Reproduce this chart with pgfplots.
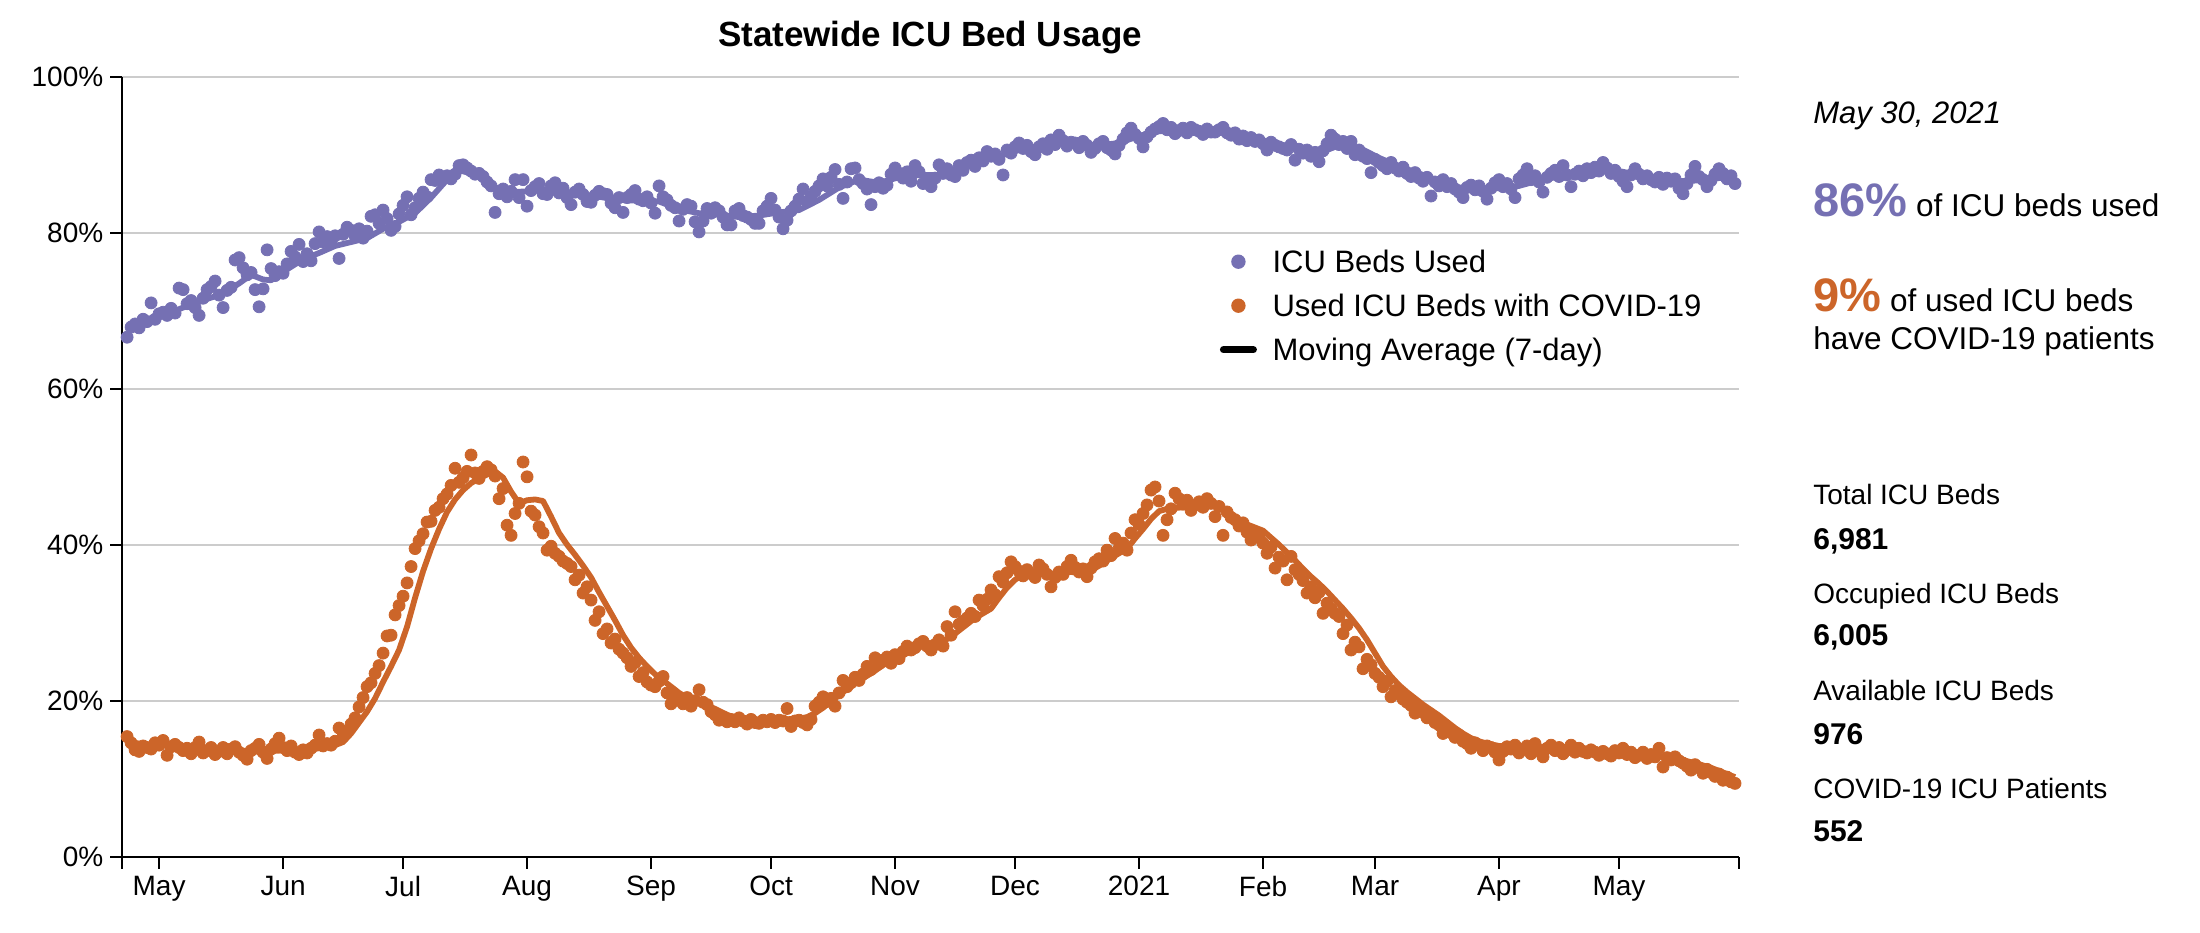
\documentclass[border=0pt]{standalone}
\usepackage{pgfplots}
\pgfplotsset{compat=1.18}
\usepackage{pgfplotstable}
\usepackage{fontspec}
\setmainfont{Liberation Sans}

\definecolor{pur}{RGB}{117,112,179}
\definecolor{orn}{RGB}{204,101,41}
\definecolor{gridc}{RGB}{204,204,204}

% daily values, day 0 = 1 May 2020; u = ICU beds used (%), c = used beds with COVID-19 (%)
\pgfplotstableread{
d u c
-8 66.6 15.4
-7 67.9 14.6
-6 68.3 13.7
-5 67.8 13.5
-4 68.9 14.2
-3 68.6 14.0
-2 71.0 13.8
-1 68.9 14.6
0 69.6 14.3
1 69.8 14.9
2 69.4 13.0
3 70.3 14.1
4 69.7 14.4
5 72.9 14.0
6 72.7 13.6
7 70.9 13.9
8 71.3 13.2
9 70.4 14.0
10 69.4 14.7
11 71.6 13.3
12 72.7 13.6
13 73.1 14.0
14 73.8 13.1
15 72.0 13.5
16 70.4 14.0
17 72.6 13.2
18 73.0 13.8
19 76.5 14.1
20 76.8 13.4
21 75.5 13.0
22 74.6 12.5
23 74.9 13.6
24 72.7 13.9
25 70.5 14.4
26 72.8 13.4
27 77.8 12.6
28 75.4 13.8
29 74.5 14.5
30 75.0 15.2
31 74.8 14.0
32 76.0 13.6
33 77.6 14.2
34 76.9 13.4
35 78.5 13.1
36 76.3 13.7
37 77.3 13.3
38 76.4 13.9
39 78.6 14.3
40 80.1 15.6
41 78.8 14.2
42 79.5 14.5
43 78.7 14.3
44 79.6 14.8
45 76.7 16.5
46 79.8 15.4
47 80.7 16.0
48 80.3 17.0
49 79.6 17.8
50 80.5 19.2
51 79.3 20.4
52 80.2 21.8
53 82.1 22.3
54 82.3 23.5
55 81.2 24.5
56 82.9 26.1
57 81.8 28.3
58 80.3 28.4
59 80.8 31.0
60 82.4 32.2
61 83.5 33.4
62 84.6 35.1
63 82.3 37.2
64 83.2 39.5
65 84.4 40.5
66 85.2 41.4
67 84.6 42.9
68 86.8 43.0
69 86.7 44.4
70 87.4 44.8
71 87.0 45.9
72 87.3 46.5
73 86.9 47.6
74 87.5 49.8
75 88.6 48.0
76 88.7 48.6
77 88.3 49.4
78 87.9 51.5
79 87.5 49.2
80 87.6 48.5
81 87.2 49.4
82 86.5 50.0
83 86.0 49.6
84 82.6 48.8
85 85.0 45.9
86 85.6 47.2
87 84.6 42.5
88 85.3 41.2
89 86.8 44.0
90 84.5 45.3
91 86.8 50.6
92 83.4 48.7
93 85.4 44.3
94 85.9 43.8
95 86.3 42.3
96 85.0 41.5
97 84.9 39.3
98 86.0 39.8
99 86.4 38.9
100 85.1 38.5
101 85.7 37.9
102 84.5 37.6
103 83.6 37.2
104 85.2 35.5
105 85.6 36.1
106 84.9 33.8
107 84.0 34.6
108 83.9 32.9
109 84.8 30.3
110 85.3 31.4
111 85.0 28.6
112 84.9 29.2
113 83.8 27.4
114 83.2 27.9
115 84.5 26.6
116 82.6 26.1
117 84.5 25.5
118 84.9 24.4
119 85.4 24.9
120 84.3 23.1
121 84.1 23.6
122 84.6 22.4
123 83.8 22.0
124 82.5 21.8
125 86.0 22.5
126 84.6 23.1
127 84.2 21.0
128 83.5 19.6
129 83.2 20.6
130 81.5 20.1
131 83.0 19.6
132 83.6 20.4
133 83.4 19.3
134 81.4 20.0
135 80.1 21.4
136 81.5 19.8
137 83.1 19.5
138 82.5 18.6
139 83.2 18.2
140 82.8 17.5
141 82.0 17.9
142 81.0 17.3
143 81.0 17.6
144 82.8 17.3
145 83.1 17.8
146 82.2 17.4
147 82.0 17.0
148 81.7 17.6
149 81.2 17.2
150 81.2 17.1
151 82.8 17.5
152 83.4 17.3
153 84.4 17.6
154 82.9 17.2
155 82.0 17.5
156 80.5 17.4
157 81.6 19.0
158 82.8 16.7
159 83.4 17.4
160 84.3 17.5
161 85.6 17.2
162 84.0 16.9
163 84.6 17.6
164 85.3 19.3
165 86.0 19.8
166 86.9 20.5
167 86.0 19.9
168 87.1 20.3
169 88.1 19.3
170 86.2 21.0
171 84.4 22.6
172 86.5 21.8
173 88.2 22.3
174 88.3 23.0
175 86.8 22.6
176 86.3 23.4
177 85.6 24.4
178 83.6 24.0
179 85.9 25.5
180 86.4 24.8
181 85.7 25.2
182 86.1 25.6
183 87.5 24.8
184 88.3 25.9
185 87.6 25.4
186 87.0 26.3
187 87.8 27.0
188 86.6 26.5
189 88.6 26.8
190 87.8 27.3
191 86.3 27.6
192 86.5 27.0
193 85.9 26.5
194 87.0 27.2
195 88.7 27.8
196 87.6 27.0
197 88.2 29.5
198 87.4 28.4
199 87.2 31.4
200 88.6 29.8
201 88.0 30.2
202 89.0 30.6
203 89.3 31.2
204 88.5 30.8
205 89.6 32.9
206 89.2 32.2
207 90.4 33.0
208 89.8 34.2
209 90.1 33.6
210 89.4 35.9
211 87.4 35.2
212 90.6 36.4
213 90.2 37.8
214 91.0 37.2
215 91.5 36.6
216 90.8 36.0
217 91.2 36.8
218 90.4 36.3
219 90.0 35.8
220 91.0 37.4
221 91.4 36.9
222 90.7 36.2
223 91.9 34.6
224 91.3 35.8
225 92.5 36.5
226 91.8 36.2
227 91.1 37.2
228 91.6 38.0
229 91.5 37.1
230 90.9 36.5
231 91.7 36.9
232 91.2 35.9
233 90.3 37.0
234 90.8 37.8
235 91.4 38.2
236 91.7 37.9
237 90.9 39.3
238 90.6 38.6
239 90.1 40.8
240 91.2 39.5
241 92.0 40.2
242 92.8 39.3
243 93.4 41.5
244 92.6 43.2
245 92.1 42.6
246 91.0 44.0
247 92.3 45.1
248 92.9 47.0
249 93.3 47.4
250 93.6 45.6
251 94.0 41.2
252 93.2 43.2
253 93.5 44.6
254 92.7 46.6
255 93.1 45.9
256 93.4 45.2
257 92.8 45.7
258 93.5 44.4
259 93.2 45.1
260 93.0 45.5
261 92.6 44.8
262 93.3 45.9
263 92.9 45.3
264 92.9 43.6
265 93.2 44.9
266 93.5 41.2
267 92.8 44.2
268 92.5 43.5
269 92.8 43.2
270 92.0 42.4
271 92.4 42.8
272 91.8 41.6
273 92.2 40.6
274 91.7 41.4
275 91.9 40.9
276 91.4 40.2
277 90.6 38.9
278 91.6 39.7
279 91.2 37.0
280 91.0 38.4
281 90.8 37.9
282 90.6 35.5
283 91.3 38.5
284 89.3 36.8
285 90.7 36.2
286 90.2 35.4
287 90.6 33.8
288 89.8 34.6
289 90.3 33.2
290 89.1 33.9
291 90.5 31.2
292 91.4 32.5
293 92.5 31.8
294 92.0 31.2
295 91.3 30.8
296 91.7 28.6
297 90.8 29.7
298 91.7 26.5
299 90.0 27.5
300 90.6 26.9
301 89.8 24.1
302 89.5 25.3
303 87.7 24.6
304 89.4 23.5
305 89.0 23.0
306 88.6 21.8
307 88.2 22.5
308 89.0 20.5
309 88.3 21.3
310 87.9 20.9
311 88.4 20.2
312 87.6 19.8
313 87.2 19.4
314 87.7 18.4
315 87.0 19.0
316 86.6 18.5
317 87.1 17.8
318 84.7 18.0
319 86.5 17.2
320 86.0 16.9
321 86.8 15.8
322 85.9 16.4
323 86.3 15.9
324 85.6 15.3
325 85.2 15.6
326 84.5 14.8
327 85.8 14.5
328 86.1 13.9
329 85.5 14.6
330 86.0 14.3
331 85.3 13.6
332 84.3 14.2
333 85.7 14.0
334 86.4 13.4
335 86.8 12.4
336 85.9 13.5
337 86.3 14.1
338 85.6 13.8
339 84.5 14.3
340 86.9 13.3
341 87.4 13.8
342 88.2 14.2
343 86.8 13.2
344 87.3 14.5
345 86.5 13.7
346 85.2 12.8
347 87.1 13.9
348 87.6 14.3
349 88.0 13.6
350 87.2 14.0
351 88.6 13.2
352 87.4 13.7
353 85.9 14.3
354 87.5 13.4
355 87.9 13.9
356 87.3 13.5
357 88.2 13.3
358 87.7 13.7
359 88.4 13.4
360 87.9 13.0
361 89.0 13.5
362 88.3 13.2
363 87.6 12.9
364 88.0 13.6
365 87.2 13.3
366 86.6 13.9
367 85.9 13.1
368 87.4 13.4
369 88.2 12.7
370 87.5 13.0
371 86.9 13.4
372 87.3 12.6
373 86.8 13.1
374 86.5 12.8
375 87.1 13.9
376 86.2 11.5
377 87.0 12.7
378 86.6 12.4
379 86.9 12.8
380 85.7 12.3
381 85.0 12.0
382 86.3 11.6
383 87.4 11.1
384 88.5 11.8
385 87.2 11.4
386 86.8 10.7
387 85.9 11.2
388 86.7 10.8
389 87.5 10.3
390 88.2 10.6
391 87.6 9.8
392 86.9 10.2
393 87.3 9.6
394 86.3 9.4
}\daily

% 7-day moving averages
\pgfplotstableread{
d v
-8 67.8
-4 68.6
0 69.5
4 70.0
8 70.8
12 71.5
16 72.2
20 73.5
23 74.6
26 74.0
28 73.9
32 75.3
36 76.6
40 77.4
44 78.3
48 78.8
52 79.3
56 80.5
60 81.4
64 82.5
68 84.5
72 86.8
75 88.0
78 87.6
81 87.0
84 85.8
88 85.2
92 85.3
96 85.5
100 85.3
105 84.9
110 84.6
115 84.2
120 84.1
125 84.0
130 83.0
135 82.5
140 82.3
145 82.0
150 82.2
155 82.6
160 82.9
165 84.2
170 85.8
175 86.8
180 86.4
185 87.1
190 87.4
195 87.4
200 88.2
205 89.1
210 89.8
215 90.6
220 91.1
225 91.6
230 91.4
235 91.2
240 91.5
245 92.4
250 93.0
255 93.2
260 93.1
265 93.0
270 92.6
275 91.9
280 91.3
285 90.7
290 90.2
295 91.2
300 90.9
305 89.6
310 88.5
315 87.6
320 86.6
325 85.8
330 85.6
335 85.7
340 86.0
345 86.7
350 87.2
355 87.4
360 87.8
365 87.9
370 87.4
375 86.9
380 86.6
385 86.7
390 87.0
394 87.0
}\maused

\pgfplotstableread{
d v
-8 14.8
-4 14.4
0 14.3
5 14.2
10 14.0
15 13.8
20 13.6
25 13.5
30 13.6
35 13.7
40 13.9
44 14.3
46 14.7
48 15.8
50 17.2
52 18.6
54 20.3
56 22.4
58 24.4
60 26.5
62 29.5
64 33.2
66 36.6
68 39.5
70 42.0
72 44.2
74 45.8
76 47.0
78 47.9
80 48.5
82 49.0
84 49.4
86 48.6
88 46.8
90 45.3
92 45.7
94 45.8
96 45.6
98 43.6
100 41.5
102 40.0
104 38.7
106 37.3
108 35.8
110 33.9
112 32.1
114 30.3
116 28.4
118 26.8
120 25.5
122 24.4
124 23.4
126 22.6
128 21.8
130 21.0
132 20.4
134 19.9
136 19.5
138 19.2
140 18.7
142 18.2
144 17.8
148 17.6
152 17.6
156 17.6
160 17.7
162 17.9
164 18.4
166 19.1
168 19.9
170 20.7
172 21.5
174 22.3
176 22.9
178 23.5
180 24.2
182 24.9
184 25.5
186 25.9
188 26.3
190 26.9
192 27.3
194 27.4
196 27.6
198 28.2
200 29.0
202 29.8
204 30.6
206 31.2
208 31.8
210 33.2
212 34.5
214 35.5
216 36.2
218 36.4
220 36.4
222 36.3
224 36.3
226 36.4
228 36.5
230 36.4
232 36.6
234 37.0
236 37.6
238 38.3
240 38.9
242 39.5
244 40.8
246 42.0
248 43.3
250 44.3
252 44.6
254 44.7
256 44.8
258 45.0
260 45.2
262 45.3
264 45.3
266 44.5
268 43.6
270 43.1
272 42.6
274 42.2
276 41.8
278 40.9
280 40.0
282 39.0
284 38.0
286 36.9
288 35.9
290 35.0
292 34.0
294 32.9
296 31.8
298 30.6
300 29.3
302 27.8
304 26.1
306 24.4
308 23.1
310 22.0
312 21.1
314 20.3
316 19.5
318 18.8
320 18.1
322 17.3
324 16.5
326 15.8
328 15.2
330 14.8
332 14.5
335 14.2
340 14.0
345 13.9
350 13.8
355 13.7
360 13.5
365 13.3
370 13.1
375 12.9
380 12.5
384 12.0
388 11.4
391 10.8
394 10.2
}\macovid

\begin{document}
\begin{tikzpicture}
\useasboundingbox (-61.15pt,-37.65pt) rectangle (1038.85pt,428.35pt);
\begin{axis}[
  at={(0pt,0pt)}, anchor=south west,
  scale only axis, width=808.15pt, height=390pt,
  xmin=-9.2, xmax=394.9, ymin=0, ymax=100,
  clip=false,
  axis x line=bottom, axis y line=left,
  axis line style={-, line width=1pt, black},
  tick align=outside, major tick length=6pt,
  tick style={line width=1pt, black},
  xtick={0,31,61,92,123,153,184,214,245,276,304,335,365},
  xticklabels={May,Jun,Jul,Aug,Sep,Oct,Nov,Dec,2021,Feb,Mar,Apr,May},
  extra x ticks={-9.2,394.9}, extra x tick labels={},
  ytick={0,20,40,60,80,100},
  yticklabels={0\%,20\%,40\%,60\%,80\%,100\%},
  tick label style={font=\fontsize{14}{16}\selectfont},
  ymajorgrids, major grid style={gridc, line width=1pt},
  legend style={at={(0.6791,0.7814)}, anchor=north west, draw=none, fill=none,
    inner sep=0pt, outer sep=0pt, row sep=7.5pt,
    font=\fontsize{15.5}{18}\selectfont,
    nodes={inner sep=0pt, text height=12.8pt, text depth=1.7pt}},
  legend cell align=left,
]
\addplot[only marks, mark=*, mark size=3pt, color=pur,
  legend image code/.code={\path[draw=none, fill=none] (0pt,0pt) -- (26.3pt,0pt); \fill[pur, draw=none] (9.25pt,0pt) circle (3.6pt);}]
  table[x=d, y=u] {\daily};
\addlegendentry{ICU Beds Used}
\addplot[only marks, mark=*, mark size=3pt, color=orn,
  legend image code/.code={\path[draw=none, fill=none] (0pt,0pt) -- (26.3pt,0pt); \fill[orn, draw=none] (9.25pt,0pt) circle (3.6pt);}]
  table[x=d, y=c] {\daily};
\addlegendentry{Used ICU Beds with COVID-19}
\addplot[forget plot, pur, line width=2.9pt, line join=round] table[x=d, y=v] {\maused};
\addplot[forget plot, orn, line width=2.9pt, line join=round] table[x=d, y=v] {\macovid};
\addlegendimage{legend image code/.code={\path[draw=none, fill=none] (0pt,0pt) -- (26.3pt,0pt); \draw[black, line width=3.5pt, line cap=round] (1.75pt,0pt) -- (16.75pt,0pt);}}
\addlegendentry{Moving Average (7-day)}
\end{axis}

\begin{scope}[x=0.5pt, y=-0.5pt, shift={(-61.15pt,428.35pt)}, every node/.style={inner sep=0pt, outer sep=0pt}]
\node[anchor=base] at (930,46.7) {\fontsize{17.5}{20}\selectfont\bfseries Statewide ICU Bed Usage};
\node[anchor=base west] at (1813.3,124) {\fontsize{15.5}{18}\selectfont\itshape May 30, 2021};
\node[anchor=base west] at (1813.3,216.7) {{\fontsize{23.5}{27}\selectfont\bfseries\color{pur}86\%}\fontsize{15.75}{18}\selectfont{} of ICU beds used};
\node[anchor=base west] at (1813.3,311.7) {{\fontsize{23.5}{27}\selectfont\bfseries\color{orn}9\%}\fontsize{15.75}{18}\selectfont{} of used ICU beds};
\node[anchor=base west] at (1813.3,350) {\fontsize{15.75}{18}\selectfont have COVID-19 patients};
\node[anchor=base west] at (1813.3,505) {\fontsize{14}{16}\selectfont Total ICU Beds};
\node[anchor=base west] at (1813.3,549.3) {\fontsize{15}{17}\selectfont\bfseries 6,981};
\node[anchor=base west] at (1813.3,603.3) {\fontsize{14}{16}\selectfont Occupied ICU Beds};
\node[anchor=base west] at (1813.3,646) {\fontsize{15}{17}\selectfont\bfseries 6,005};
\node[anchor=base west] at (1813.3,700) {\fontsize{14}{16}\selectfont Available ICU Beds};
\node[anchor=base west] at (1813.3,744) {\fontsize{15}{17}\selectfont\bfseries 976};
\node[anchor=base west] at (1813.3,798.3) {\fontsize{14}{16}\selectfont COVID-19 ICU Patients};
\node[anchor=base west] at (1813.3,841.7) {\fontsize{15}{17}\selectfont\bfseries 552};
\end{scope}
\end{tikzpicture}
\end{document}
